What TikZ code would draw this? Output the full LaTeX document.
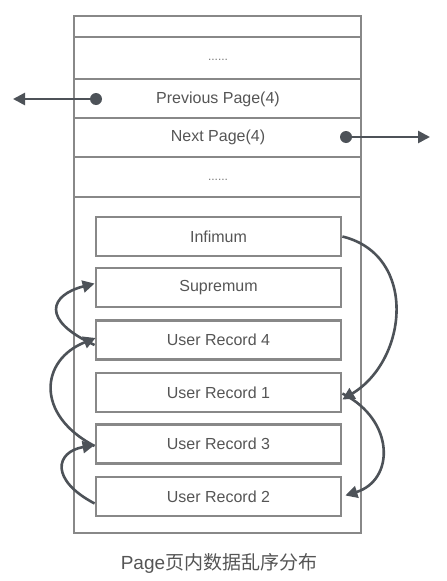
\documentclass[tikz,border=0pt]{standalone}
\usepackage{fontspec}
\setmainfont{Liberation Sans}
\newfontfamily\cjk{Noto Sans CJK SC}
\usetikzlibrary{arrows.meta}
\definecolor{boxgray}{HTML}{888888}
\definecolor{arrgray}{HTML}{4D5258}
\definecolor{txtgray}{HTML}{555555}
\begin{document}
\begin{tikzpicture}[x=1pt,y=-1pt,
  frame/.style={draw=boxgray,line width=2.8pt},
  rec/.style={draw=boxgray,line width=2.8pt,minimum width=245pt,minimum height=39pt,inner sep=0pt,font=\fontsize{16}{18}\selectfont,text=txtgray},
  lbl/.style={font=\fontsize{16}{18}\selectfont,text=txtgray},
  dotlbl/.style={font=\fontsize{12}{14}\selectfont,text=txtgray!80},
  link/.style={draw=arrgray,line width=2.6pt,-{Triangle[length=12pt,width=12pt]}},
  dot/.style={circle,fill=arrgray,inner sep=0pt,minimum size=12pt}]
\useasboundingbox (0,0) rectangle (447,581);
% outer frame
\draw[frame] (74,16) rectangle (361,533);
\draw[frame] (74,37) -- (361,37);
\draw[frame] (74,79) -- (361,79);
\draw[frame] (74,118) -- (361,118);
\draw[frame] (74,157) -- (361,157);
\draw[frame] (74,197) -- (361,197);
\node[dotlbl] (dots1) at (218,60) {......};
\node[lbl] (prev) at (218,99) {Previous Page(4)};
\node[lbl] (next) at (218,137) {Next Page(4)};
\node[dotlbl] (dots2) at (218,180) {......};
% pointers
\node[dot] (pd) at (96,99) {};
\coordinate (pl) at (13,99);
\draw[link] (pd.center) -- (pl);
\node[dot] (nd) at (346,137) {};
\coordinate (nr) at (430,137);
\draw[link] (nd.center) -- (nr);
% records
\node[rec] (inf) at (218.5,236.5) {Infimum};
\node[rec] (sup) at (218.5,287.5) {Supremum};
\node[rec] (u4) at (218.5,340) {User Record 4};
\node[rec] (u1) at (218.5,392.5) {User Record 1};
\node[rec] (u3) at (218.5,444) {User Record 3};
\node[rec] (u2) at (218.5,496.5) {User Record 2};
% right chains
\draw[link] ([yshift=0pt]inf.east) .. controls (418,255) and (408,360) .. ([yshift=-7pt]u1.east);
\draw[link] ([yshift=-1pt]u1.east) .. controls (395,420) and (395,480) .. ([yshift=1pt,xshift=3pt]u2.east);
% left chains
\draw[link] ([yshift=-5pt]u4.west) .. controls (40,320) and (50,295) .. ([yshift=4pt]sup.west);
\draw[link] ([yshift=-2pt]u3.west) .. controls (35,415) and (40,360) .. ([yshift=2pt,xshift=1pt]u4.west);
\draw[link] ([yshift=-7pt]u2.west) .. controls (50,480) and (55,452) .. ([yshift=-1pt]u3.west);
\node[font=\fontsize{19}{22}\selectfont,text=txtgray] (cap) at (219,563) {Page{\cjk 页内数据乱序分布}};
\end{tikzpicture}
\end{document}
